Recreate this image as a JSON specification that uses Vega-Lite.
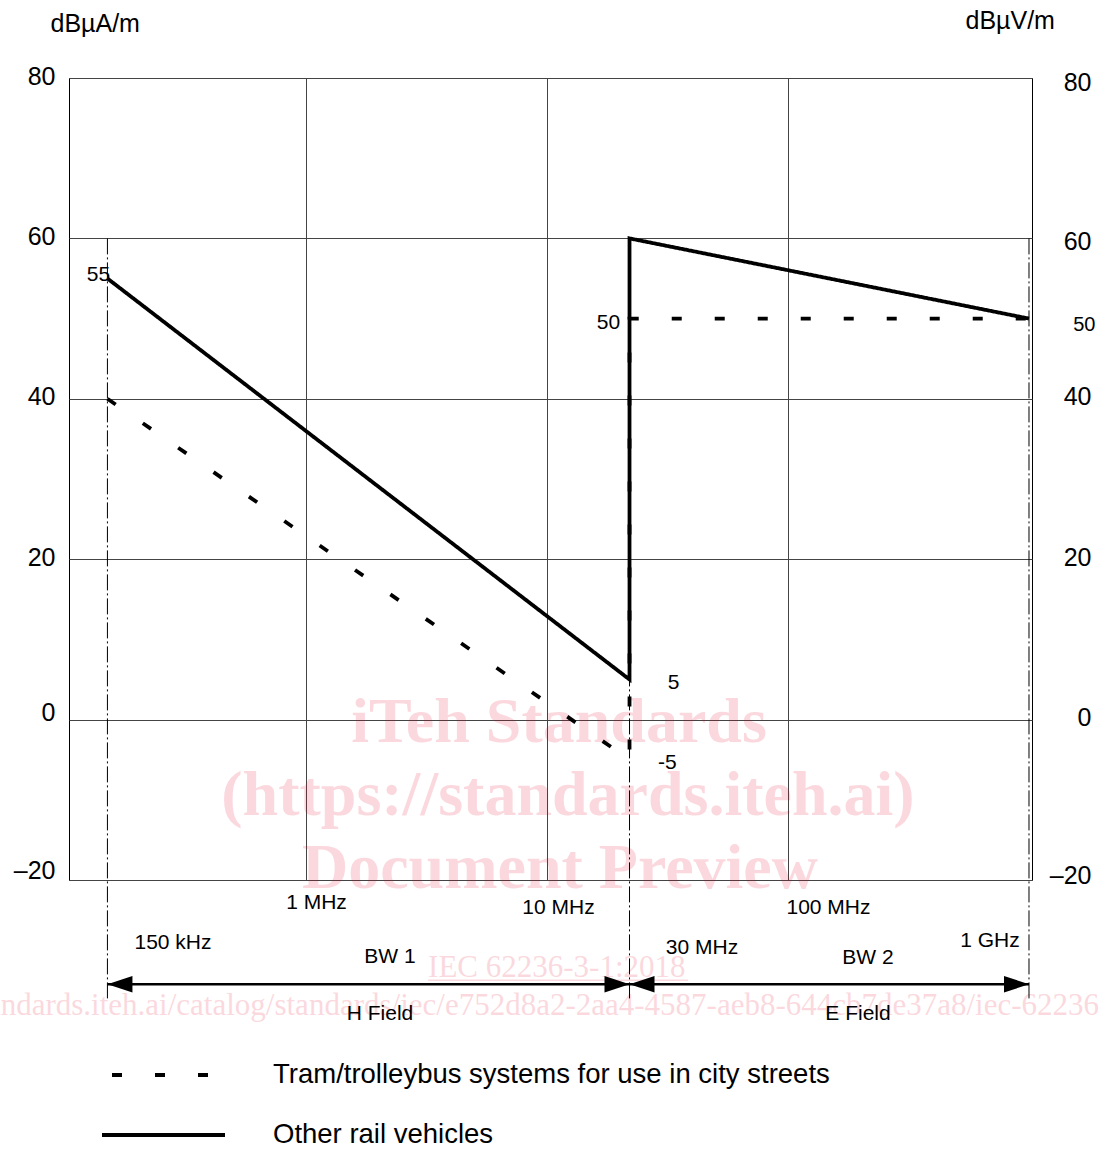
{
  "$schema": "https://vega.github.io/schema/vega-lite/v6.json",
  "width": 963,
  "height": 802,
  "autosize": {"type": "none"},
  "padding": {"left": 69, "top": 78, "right": 68, "bottom": 278},
  "background": "white",
  "config": {
    "font": "Liberation Sans",
    "view": {"stroke": "#000", "strokeWidth": 1},
    "axis": {"labelColor": "#000", "titleColor": "#000", "labelFont": "Liberation Sans", "titleFont": "Liberation Sans"}
  },
  "datasets": {
    "lines": [
      {"s": "Other rail vehicles", "i": 1, "f": 0.15, "db": 55},
      {"s": "Other rail vehicles", "i": 2, "f": 22, "db": 5},
      {"s": "Other rail vehicles", "i": 3, "f": 22, "db": 60},
      {"s": "Other rail vehicles", "i": 4, "f": 1000, "db": 50},
      {"s": "Tram/trolleybus systems for use in city streets", "i": 1, "f": 0.15, "db": 40},
      {"s": "Tram/trolleybus systems for use in city streets", "i": 2, "f": 22, "db": -5},
      {"s": "Tram/trolleybus systems for use in city streets", "i": 3, "f": 22, "db": 50},
      {"s": "Tram/trolleybus systems for use in city streets", "i": 4, "f": 1000, "db": 50}
    ],
    "edges": [
      {"f": 0.15, "db": 60, "db2": -35},
      {"f": 22, "db": 60, "db2": -35},
      {"f": 1000, "db": 60, "db2": -35}
    ],
    "spans": [
      {"band": "BW 1", "f": 0.15, "f2": 22, "db": -33},
      {"band": "BW 2", "f": 22, "f2": 1000, "db": -33}
    ],
    "heads": [
      {"f": 0.15, "db": -33, "dir": "left"},
      {"f": 22, "db": -33, "dir": "right"},
      {"f": 22, "db": -33, "dir": "left"},
      {"f": 1000, "db": -33, "dir": "right"}
    ],
    "ann": [
      {"t": "55", "f": 0.1377, "db": 55.4},
      {"t": "50", "f": 18.0, "db": 49.45},
      {"t": "5", "f": 33.5, "db": 4.56},
      {"t": "-5", "f": 31.6, "db": -5.41},
      {"t": "150 kHz", "f": 0.2806, "db": -27.86},
      {"t": "30 MHz", "f": 43.98, "db": -28.48},
      {"t": "1 GHz", "f": 689, "db": -27.6},
      {"t": "BW 1", "f": 2.23, "db": -29.6},
      {"t": "BW 2", "f": 214.8, "db": -29.73},
      {"t": "H Field", "f": 2.028, "db": -36.71},
      {"t": "E Field", "f": 195.2, "db": -36.71}
    ],
    "wmBig": [
      {"t": "iTeh Standards", "f": 11.22, "db": -2.79},
      {"t": "(https://standards.iteh.ai)", "f": 12.22, "db": -11.9},
      {"t": "Document Preview", "f": 11.32, "db": -21.0}
    ],
    "wmSmall": [
      {"t": "IEC 62236-3-1:2018", "f": 3.21, "db": -32.1},
      {"t": "https://standards.iteh.ai/catalog/standards/iec/e752d8a2-2aa4-4587-aeb8-644cb7de37a8/iec-62236-3-1-2018", "f": 0.0171, "db": -36.83}
    ],
    "wmLine": [
      {"f": 3.21, "f2": 38.5, "db": -32.5}
    ]
  },
  "encoding": {
    "x": {
      "field": "f",
      "type": "quantitative",
      "scale": {"type": "log", "domain": [0.1039, 1029.1], "nice": false},
      "axis": {
        "values": [1, 10, 100],
        "grid": true,
        "gridColor": "#444",
        "gridWidth": 1,
        "domain": false,
        "ticks": false,
        "tickSize": 0,
        "labelExpr": "datum.value + ' MHz'",
        "labelFontSize": 21,
        "labelBaseline": "middle",
        "labelAlign": "center",
        "labelFlush": false,
        "labelOverlap": false,
        "labelPadding": {"condition": {"test": "datum.value == 1", "value": 22}, "value": 27},
        "labelOffset": {"condition": [{"test": "datum.value == 100", "value": 40}, {"test": "datum.value == 10", "value": 11}], "value": 10},
        "title": null
      }
    },
    "y": {
      "field": "db",
      "type": "quantitative",
      "scale": {"domain": [-20, 80], "nice": false, "zero": false},
      "axis": null
    }
  },
  "layer": [
    {
      "data": {"name": "wmBig"},
      "mark": {"type": "text", "font": "Liberation Serif", "fontWeight": "bold", "fontSize": 64, "align": "center", "baseline": "alphabetic", "fill": "#e60028", "opacity": 0.15},
      "encoding": {"text": {"field": "t"}}
    },
    {
      "data": {"name": "wmSmall"},
      "mark": {"type": "text", "font": "Liberation Serif", "fontSize": 31, "align": "left", "baseline": "alphabetic", "fill": "#e60028", "opacity": 0.15},
      "encoding": {"text": {"field": "t"}}
    },
    {
      "data": {"name": "wmLine"},
      "mark": {"type": "rule", "color": "#e60028", "opacity": 0.15, "strokeWidth": 1.5},
      "encoding": {"x2": {"field": "f2"}}
    },
    {
      "data": {"name": "edges"},
      "mark": {"type": "rule", "color": "#000", "strokeWidth": 1, "strokeDash": [16, 3, 2, 3]},
      "encoding": {
        "y": {
          "field": "db",
          "type": "quantitative",
          "scale": {"domain": [-20, 80], "nice": false, "zero": false},
          "axis": {
            "orient": "right",
            "values": [-20, 0, 20, 40, 50, 60, 80],
            "grid": false,
            "domain": false,
            "ticks": false,
            "tickSize": 0,
            "labelAlign": "right",
            "labelBaseline": "middle",
            "labelFlush": false,
            "labelOverlap": false,
            "labelExpr": "datum.value < 0 ? '–' + (-datum.value) : '' + datum.value",
            "labelFontSize": {"condition": {"test": "datum.value == 50", "value": 20}, "value": 25},
            "labelPadding": {"condition": {"test": "datum.value == 50", "value": 63}, "value": 59},
            "labelOffset": {"condition": [{"test": "datum.value == 80", "value": 4}, {"test": "datum.value == 60", "value": 3}, {"test": "datum.value == 50", "value": 6}, {"test": "datum.value == -20", "value": -5}], "value": -2},
            "title": "dBµV/m",
            "titleAngle": 0,
            "titleAlign": "left",
            "titleBaseline": "middle",
            "titleX": -67,
            "titleY": -58,
            "titleFontSize": 25,
            "titleFontWeight": "normal"
          }
        },
        "y2": {"field": "db2"}
      }
    },
    {
      "data": {"name": "spans"},
      "mark": {"type": "rule", "color": "#000", "strokeWidth": 2.5},
      "encoding": {"x2": {"field": "f2"}}
    },
    {
      "data": {"name": "heads"},
      "mark": {"type": "point", "filled": true, "color": "#000", "opacity": 1, "size": 625, "strokeWidth": 0},
      "encoding": {
        "shape": {
          "field": "dir",
          "type": "nominal",
          "scale": {"domain": ["left", "right"], "range": ["M0,0L2,-0.667L2,0.667Z", "M0,0L-2,-0.667L-2,0.667Z"]},
          "legend": null
        }
      }
    },
    {
      "data": {"name": "lines"},
      "mark": {"type": "line", "color": "#000", "strokeWidth": 3.8},
      "encoding": {
        "y": {
          "field": "db",
          "type": "quantitative",
          "scale": {"domain": [-20, 80], "nice": false, "zero": false},
          "axis": {
            "orient": "left",
            "values": [-20, 0, 20, 40, 60, 80],
            "grid": true,
            "gridColor": "#444",
            "gridWidth": 1,
            "domain": false,
            "ticks": false,
            "tickSize": 0,
            "labelAlign": "right",
            "labelBaseline": "middle",
            "labelFlush": false,
            "labelOverlap": false,
            "labelFontSize": 25,
            "labelPadding": 14,
            "labelExpr": "datum.value < 0 ? '–' + (-datum.value) : '' + datum.value",
            "labelOffset": {"condition": [{"test": "datum.value == -20", "value": -10}, {"test": "datum.value == 0", "value": -7}], "value": -2},
            "title": "dBµA/m",
            "titleAngle": 0,
            "titleAlign": "left",
            "titleBaseline": "middle",
            "titleX": -19,
            "titleY": -55,
            "titleFontSize": 25,
            "titleFontWeight": "normal"
          }
        },
        "order": {"field": "i", "type": "quantitative"},
        "strokeDash": {
          "field": "s",
          "type": "nominal",
          "scale": {
            "domain": ["Tram/trolleybus systems for use in city streets", "Other rail vehicles"],
            "range": [[10, 33], [1, 0]]
          },
          "legend": {
            "orient": "none",
            "legendX": 31,
            "legendY": 982,
            "title": null,
            "direction": "vertical",
            "padding": 0,
            "symbolType": "stroke",
            "symbolSize": 15129,
            "symbolStrokeWidth": 3.8,
            "symbolStrokeColor": "#000",
            "symbolDashOffset": 33,
            "labelFontSize": 27.5,
            "labelFont": "Liberation Sans",
            "labelColor": "#000",
            "labelOffset": 46,
            "labelLimit": 900,
            "clipHeight": 30,
            "rowPadding": 30
          }
        }
      }
    },
    {
      "data": {"name": "ann"},
      "mark": {"type": "text", "fontSize": 21, "align": "center", "baseline": "middle", "color": "#000"},
      "encoding": {"text": {"field": "t"}}
    }
  ],
  "resolve": {"axis": {"y": "independent"}}
}
